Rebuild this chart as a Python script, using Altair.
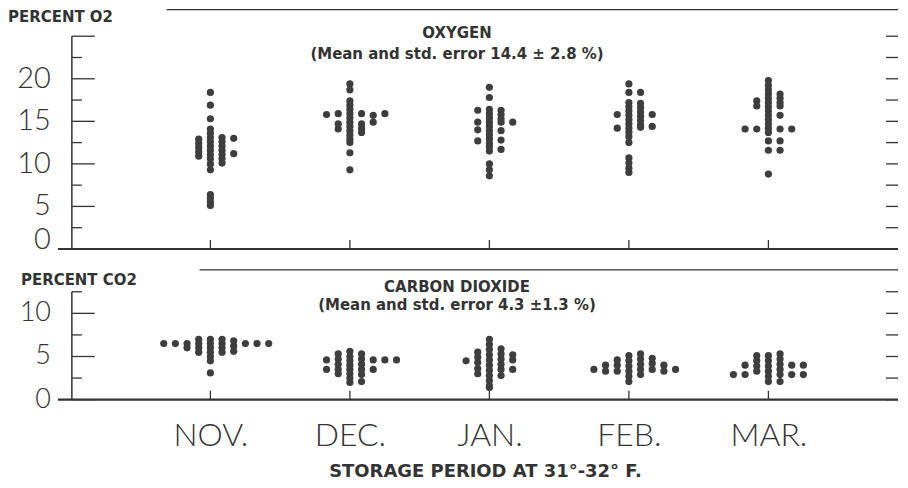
import json
import altair as alt
import pandas as pd

# ---------------- data ----------------
MONTHS = ["NOV.", "DEC.", "JAN.", "FEB.", "MAR."]

# Oxygen (%): dot-stack column -> values
O2_NOV = {-1: [12.9, 12.4, 11.9, 11.4, 10.9],
          0: [18.4, 16.9, 15.3, 14.1, 13.6, 13.1, 12.6, 12.1, 11.6, 11.1, 10.6, 10.0, 9.3, 6.4, 6.0, 5.5, 5.1],
          1: [13.1, 12.6, 12.1, 11.6, 11.1, 10.6, 10.1],
          2: [13.0, 11.2]}
O2_DEC = {-2: [15.8],
          -1: [15.9, 14.7, 14.1],
          0: [19.4, 18.7, 17.4, 16.9, 16.4, 15.9, 15.4, 14.9, 14.4, 13.9, 13.4, 12.9, 12.5, 11.3, 9.3],
          1: [15.9, 14.7, 14.2, 13.7],
          2: [15.7, 14.9],
          3: [15.9]}
O2_JAN = {-1: [16.3, 14.9, 14.0, 12.7],
          0: [19.0, 17.8, 16.4, 15.9, 15.4, 14.9, 14.4, 13.9, 13.4, 12.9, 12.4, 12.0, 11.5, 10.0, 9.3, 8.6],
          1: [16.3, 15.8, 15.3, 14.9, 13.9, 12.8, 11.7],
          2: [14.9]}
O2_FEB = {-1: [15.8, 14.2],
          0: [19.4, 18.4, 17.2, 16.7, 16.2, 15.7, 15.2, 14.7, 14.2, 13.7, 13.2, 12.5, 10.7, 10.1, 9.5, 9.0],
          1: [18.4, 17.1, 16.6, 16.1, 15.6, 15.1, 14.6, 14.3],
          2: [15.8, 14.4]}
O2_MAR = {-2: [14.1],
          -1: [17.4, 16.8, 14.1],
          0: [19.8, 19.2, 18.7, 18.2, 17.7, 17.2, 16.7, 16.2, 15.7, 15.2, 14.7, 14.2, 13.7, 12.7, 11.6, 8.8],
          1: [18.2, 17.7, 17.2, 16.8, 15.7, 14.1, 12.7, 11.6],
          2: [14.1]}

# Carbon dioxide (%): dot-stack column -> values
CO2_NOV = {-4: [6.5], -3: [6.5], -2: [6.5, 6.0],
           -1: [7.0, 6.5, 6.0, 5.5],
           0: [7.0, 6.5, 6.0, 5.5, 5.0, 4.5, 3.1],
           1: [7.0, 6.5, 6.0, 5.5],
           2: [6.8, 6.2, 5.6],
           3: [6.5], 4: [6.5], 5: [6.5]}
CO2_DEC = {-2: [4.6, 3.5],
           -1: [5.3, 4.7, 4.1, 3.5, 3.0],
           0: [5.6, 5.0, 4.5, 4.0, 3.5, 3.0, 2.5, 2.0],
           1: [5.3, 4.7, 4.1, 3.5, 2.9, 2.1],
           2: [4.6, 3.5], 3: [4.6], 4: [4.6]}
CO2_JAN = {-2: [4.5],
           -1: [5.5, 4.9, 4.3, 3.6, 3.0],
           0: [7.0, 6.4, 5.8, 5.2, 4.6, 4.0, 3.4, 2.8, 2.2, 1.6, 1.4],
           1: [5.9, 5.3, 4.7, 4.1, 3.5, 2.8],
           2: [5.2, 4.6, 3.5]}
CO2_FEB = {-3: [3.5], -2: [4.0, 3.3],
           -1: [4.6, 4.0, 3.3],
           0: [5.1, 4.5, 3.9, 3.3, 2.7, 2.1],
           1: [5.3, 4.7, 4.1, 3.5, 2.9],
           2: [4.8, 4.2, 3.5],
           3: [4.0, 3.3], 4: [3.5]}
CO2_MAR = {-3: [2.9], -2: [4.0, 2.9],
           -1: [5.1, 4.5, 3.9, 3.3],
           0: [5.1, 4.5, 3.9, 3.3, 2.7, 2.1],
           1: [5.3, 4.7, 4.1, 3.5, 2.9, 2.1],
           2: [4.0, 2.9], 3: [4.0, 2.9]}

O2_TICKS = [0, 2.5, 5, 7.5, 10, 12.5, 15, 17.5, 20, 22.5, 25]
O2_LABELS = [0, 5, 10, 15, 20]
CO2_TICKS = [0, 2.5, 5, 7.5, 10, 12.5]
CO2_LABELS = [0, 5, 10]

O2_TITLE = "PERCENT O2"
O2_HEAD = "OXYGEN"
O2_SUB = "(Mean and std. error 14.4 ± 2.8 %)"
CO2_TITLE = "PERCENT CO2"
CO2_HEAD = "CARBON DIOXIDE"
CO2_SUB = "(Mean and std. error 4.3 ±1.3 %)"
X_TITLE = "STORAGE PERIOD AT 31°-32° F."

# ---------------- style ----------------
W = 828
COL_STEP = 0.0836
INK = "#333333"
DOT = "#3e3e3e"
NUM_FONT = "Lato"
TXT_FONT = "DejaVu Sans"
X_SCALE = alt.Scale(domain=[-0.993, 4.929], nice=False, zero=False)


def dots_frame(groups):
    rows = []
    for m, g in enumerate(groups):
        for col, vals in g.items():
            for v in vals:
                rows.append({"m": m, "col": col, "v": v})
    return pd.DataFrame(rows)


ONE = pd.DataFrame({"k": [0]})


def text_layer(txt, x, y, size, weight="bold", align="center", font=TXT_FONT, baseline="middle"):
    return alt.Chart(ONE).mark_text(
        text=txt, align=align, baseline=baseline, fontSize=size,
        fontWeight=weight, font=font, color=INK
    ).encode(x=alt.value(x), y=alt.value(y))


def panel(groups, ticks, labels, ymax, height, axis_top, frame_x, title, head, sub,
          title_x, title_y, head_y, sub_y, label_size, x_axis, zero_base):
    yscale = alt.Scale(domain=[0, ymax], nice=False, zero=True)
    Y = lambda f: alt.Y(f, scale=yscale, axis=None)
    X = lambda f: alt.X(f, scale=X_SCALE, axis=x_axis)

    dots = alt.Chart(dots_frame(groups)).transform_calculate(
        x=f"datum.m + datum.col * {COL_STEP}"
    ).mark_circle(size=52, opacity=1, color=DOT).encode(
        x=X("x:Q"), y=Y("v:Q")
    )

    tick_df = pd.DataFrame({"v": ticks})
    major = alt.Chart(tick_df).transform_filter("datum.v % 5 == 0").mark_rule(
        color=INK, strokeWidth=1.3).encode(x=alt.value(0), x2=alt.value(23), y=Y("v:Q"))
    minor = alt.Chart(tick_df).transform_filter("datum.v % 5 != 0").mark_rule(
        color=INK, strokeWidth=1.3).encode(x=alt.value(0), x2=alt.value(10), y=Y("v:Q"))
    right = alt.Chart(tick_df).mark_rule(color=INK, strokeWidth=1.3).encode(
        x=alt.value(W - 12), x2=alt.value(W), y=Y("v:Q"))

    yline = alt.Chart(pd.DataFrame({"a": [0], "b": [axis_top]})).mark_rule(
        color=INK, strokeWidth=1.5).encode(x=alt.value(0), y=Y("a:Q"), y2="b:Q")
    zero = alt.Chart(pd.DataFrame({"a": [0]})).mark_rule(
        color=INK, strokeWidth=2.2).encode(x=alt.value(-14), x2=alt.value(W), y=Y("a:Q"))
    frame = alt.Chart(ONE).mark_rule(color=INK, strokeWidth=1.2).encode(
        x=alt.value(frame_x), x2=alt.value(W), y=alt.value(0))

    mticks = alt.Chart(pd.DataFrame({"m": list(range(len(MONTHS))), "a": [0] * len(MONTHS)})).mark_rule(
        color=INK, strokeWidth=1.3).encode(x=X("m:Q"), y=Y("a:Q"), y2=alt.value(height - 9))

    lab_df = pd.DataFrame({"v": labels})
    labs = alt.Chart(lab_df).transform_filter("datum.v > 0").mark_text(
        align="right", baseline="middle", fontSize=label_size, fontWeight=300,
        font=NUM_FONT, color=INK).encode(x=alt.value(-21), y=Y("v:Q"), text="v:Q")
    lab0 = alt.Chart(lab_df).transform_filter("datum.v == 0").mark_text(
        align="right", baseline=zero_base, fontSize=label_size, fontWeight=300,
        font=NUM_FONT, color=INK).encode(x=alt.value(-21), y=Y("v:Q"), text="v:Q")

    texts = [
        text_layer(title, title_x, title_y, 15, align="left"),
        text_layer(head, 386, head_y, 15),
        text_layer(sub, 386, sub_y, 15),
    ]
    return alt.layer(frame, yline, major, minor, right, zero, mticks, dots, labs, lab0, *texts).properties(
        width=W, height=height)


label_expr = json.dumps(MONTHS) + "[datum.value]"
bottom_axis = alt.Axis(values=list(range(len(MONTHS))), labelExpr=label_expr, title=X_TITLE,
                       grid=False, ticks=False, domain=False, labelPadding=21,
                       labelFontSize=32, labelFont=NUM_FONT, labelFontWeight=300, labelColor=INK,
                       titleFontSize=18, titleFont=TXT_FONT, titleFontWeight="bold",
                       titleColor=INK, titlePadding=11)

top = panel([O2_NOV, O2_DEC, O2_JAN, O2_FEB, O2_MAR], O2_TICKS, O2_LABELS, 240 / 8.53, 240, 25,
            95, O2_TITLE, O2_HEAD, O2_SUB, -64, 8, 24, 45, 29, None, "alphabetic")
bottom = panel([CO2_NOV, CO2_DEC, CO2_JAN, CO2_FEB, CO2_MAR], CO2_TICKS, CO2_LABELS, 130 / 8.65, 130, 12.5,
               128, CO2_TITLE, CO2_HEAD, CO2_SUB, -51, 10, 17, 35, 27, bottom_axis, "middle")

chart = alt.vconcat(top, bottom, spacing=14).properties(padding=0).configure_view(stroke=None)

chart.save("out.html", embed_options={"renderer": "svg", "actions": False})
